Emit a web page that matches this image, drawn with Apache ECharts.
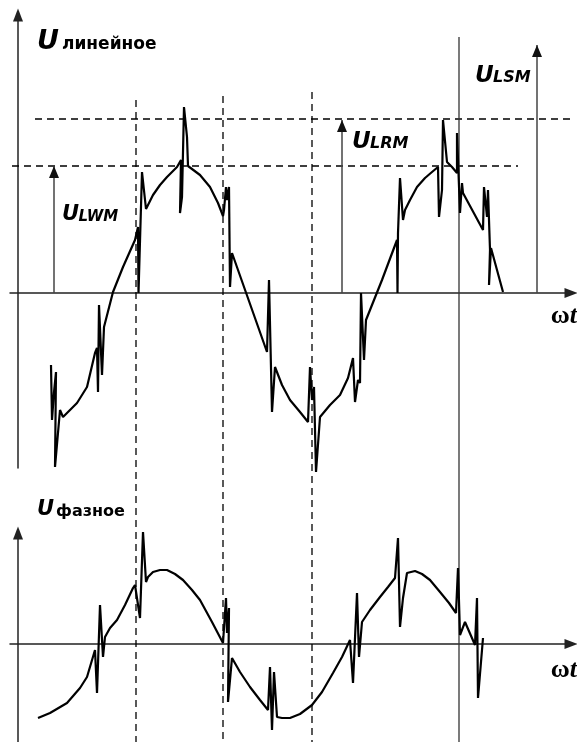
<!DOCTYPE html>
<html><head><meta charset="utf-8">
<script src="https://cdn.jsdelivr.net/npm/echarts@6/dist/echarts.min.js"></script>
<style>html,body{margin:0;padding:0;background:#fff}#c{width:577px;height:742px}</style>
</head><body><div id="c"></div>
<script>
// ---- data (ωt units, U units; origin at the axes crossing) ----
const topWaveT = [33,34,36,38,37,42,45,59,69,77,79,80,81,84,86,95,105,117,120,120.5,124,128,135,142,149,159,163,162,164,166,169,170,172,182,192,200,205,206,208,209,211,212,214,249,251,254,257,264,272,282,290,292,294,296,298,302,312,322,330,335,337,340,342,343,346,348,364,379,379.5,380,382,385,387,392,399,407,414,420,421,424,425,429,434,439,439,442,444,445,465,466,469,470,472,471,473,485];
const topWaveU = [-72,-127,-99,-79,-174,-117,-124,-110,-94,-60,-55,-99,-12,-82,-34,1,26,53,66,0,121,84,98,108,116,126,133,80,96,186,156,127,126,118,106,90,77,83,106,93,106,6,40,-59,13,-119,-74,-92,-107,-119,-129,-74,-107,-94,-179,-124,-112,-102,-85,-65,-109,-87,-90,0,-67,-27,13,53,0,60,115,73,83,93,106,115,121,126,76,103,173,131,126,120,160,80,110,100,63,106,76,103,43,8,45,1];
const botWaveT = [20,32,49,62,69,77,79,82,85,87,92,99,107,115,117,122,125,128,130,135,142,149,157,165,174,182,194,205,208,209,211,210,214,222,232,242,250,252,254,256,259,264,272,282,294,304,315,324,332,335,339,341,344,352,362,370,377,380,382,385,389,397,404,412,422,431,438,440,442,447,457,459,460,465];
const botWaveU = [-74,-69,-59,-44,-33,-6,-49,39,-13,7,16,24,39,56,59,26,112,62,67,72,74,74,70,64,54,44,22,1,46,11,36,-58,-14,-28,-43,-56,-66,-23,-86,-28,-73,-74,-74,-70,-61,-48,-29,-13,4,-39,51,-13,22,34,47,57,66,106,17,46,71,73,70,64,52,41,31,76,9,22,-1,46,-54,6];

const levelU = [127, 174];            // U_LWM level, U_LRM level
const levelFromT = [-6, 17];
const levelToT = [500, 555];
const dashT = [118, 205, 294];        // vertical dashed markers
const dashTopU = [193, 197, 201];
const markerT = 441, markerTopU = 256; // solid vertical marker
const lowestU = -449;                  // bottom of page in top-plot units
const arrowT = [36, 324, 519];
const arrowU = [127, 173, 248];
const arrowNames = ['LWM', 'LRM', 'LSM'];

const zip = (a, b) => a.map((v, i) => [v, b[i]]);

const chart = echarts.init(document.getElementById('c'), null, {renderer: 'canvas'});

const axisLine = {show: true, onZero: true, symbol: ['none', 'triangle'], symbolSize: [10, 13],
  lineStyle: {color: '#222', width: 1.5}};
const hidden = {axisTick: {show: false}, axisLabel: {show: false}, splitLine: {show: false}};

const series = [];
series.push({type: 'line', xAxisIndex: 0, yAxisIndex: 0, data: zip(topWaveT, topWaveU), showSymbol: false,
  symbol: 'none', clip: false, lineStyle: {color: '#000', width: 2.2}, z: 5});
series.push({type: 'line', xAxisIndex: 1, yAxisIndex: 1, data: zip(botWaveT, botWaveU), showSymbol: false,
  symbol: 'none', clip: false, lineStyle: {color: '#000', width: 2.2}, z: 5});
levelU.forEach((u, i) => series.push({type: 'line', xAxisIndex: 0, yAxisIndex: 0, symbol: 'none', clip: false,
  data: [[levelFromT[i], u], [levelToT[i], u]], lineStyle: {color: '#000', width: 1.3, type: [7, 5]}}));
dashT.forEach((t, i) => series.push({type: 'line', xAxisIndex: 0, yAxisIndex: 0, symbol: 'none', clip: false,
  data: [[t, dashTopU[i]], [t, lowestU]], lineStyle: {color: '#000', width: 1.3, type: [7, 5]}}));
series.push({type: 'line', xAxisIndex: 0, yAxisIndex: 0, symbol: 'none', clip: false,
  data: [[markerT, markerTopU], [markerT, lowestU]], lineStyle: {color: '#333', width: 1.3}});
arrowT.forEach((t, i) => series.push({type: 'line', xAxisIndex: 0, yAxisIndex: 0, clip: false, showSymbol: true,
  symbol: 'none',
  data: [{value: [t, 0], symbol: 'none'},
         {value: [t, arrowU[i]], symbol: 'triangle', symbolSize: [10, 12], symbolOffset: [0, '50%'],
          itemStyle: {color: '#111'}}],
  lineStyle: {color: '#444', width: 1.5}, itemStyle: {color: '#111'}}));

const F = '"DejaVu Sans", "Liberation Sans", sans-serif';
function txt(x, y, s, size, weight, style, family, align) {
  return {type: 'text', x: x, y: y, style: {text: s, fontSize: size, fontWeight: weight, fontStyle: style,
    fontFamily: family || F, fill: '#000', textAlign: align || 'left', textVerticalAlign: 'middle'}};
}
const graphic = [
  txt(37, 42, 'U', 27, 'bold', 'italic'),
  txt(62, 45, 'линейное', 17, 'bold', 'normal'),
  txt(37, 510, 'U', 21, 'bold', 'italic'),
  txt(56, 512, 'фазное', 16, 'bold', 'normal'),
  {type: 'text', x: 577, y: 316, style: {text: '{a|ω}{b|t}', textAlign: 'right', textVerticalAlign: 'middle',
    rich: {a: {fontSize: 26, fontWeight: 'bold', fontFamily: '"Liberation Serif", serif'},
           b: {fontSize: 26, fontWeight: 'bold', fontStyle: 'italic', fontFamily: '"Liberation Serif", serif'}}}},
  {type: 'text', x: 577, y: 670, style: {text: '{a|ω}{b|t}', textAlign: 'right', textVerticalAlign: 'middle',
    rich: {a: {fontSize: 26, fontWeight: 'bold', fontFamily: '"Liberation Serif", serif'},
           b: {fontSize: 26, fontWeight: 'bold', fontStyle: 'italic', fontFamily: '"Liberation Serif", serif'}}}},
];
const labelPos = [[62, 215, 21, 15], [352, 142, 23, 16], [475, 76, 23, 16]];
labelPos.forEach((p, i) => {
  graphic.push(txt(p[0], p[1], 'U', p[2], 'bold', 'italic'));
  graphic.push(txt(p[0] + p[2] * 0.78, p[1] + 2, arrowNames[i], p[3], 'bold', 'italic'));
});

chart.setOption({
  animation: false,
  backgroundColor: '#fff',
  grid: [
    {left: 10, right: 6, top: 15, bottom: 274, containLabel: false},
    {left: 10, right: 6, top: 533, bottom: 0, containLabel: false}
  ],
  xAxis: [
    Object.assign({type: 'value', gridIndex: 0, min: -8, max: 553, axisLine: axisLine}, hidden),
    Object.assign({type: 'value', gridIndex: 1, min: -8, max: 553, axisLine: axisLine}, hidden)
  ],
  yAxis: [
    Object.assign({type: 'value', gridIndex: 0, min: -175, max: 278, axisLine: axisLine}, hidden),
    Object.assign({type: 'value', gridIndex: 1, min: -98, max: 111, axisLine: axisLine}, hidden)
  ],
  series: series,
  graphic: graphic
});
</script></body></html>
